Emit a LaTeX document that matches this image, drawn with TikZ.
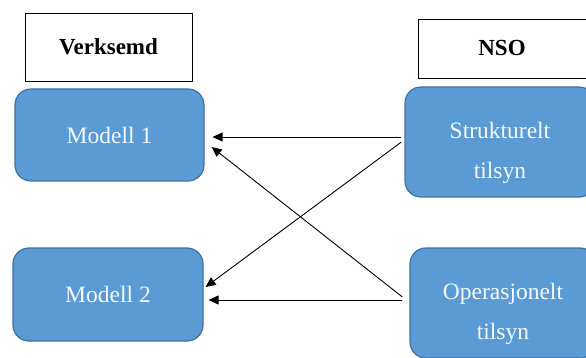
\documentclass[tikz,border=0pt]{standalone}
\usepackage{fontspec}
\setmainfont{Liberation Serif}
\usetikzlibrary{arrows.meta}

\definecolor{boxblue}{HTML}{5B9BD5}
\definecolor{edgeblue}{HTML}{41719C}

\begin{document}
\begin{tikzpicture}[x=1pt, y=-1pt,
  head/.style={draw, line width=0.8pt, fill=white, inner sep=0pt,
               font=\fontsize{23}{28}\selectfont\bfseries},
  part/.style={draw=edgeblue, line width=1.2pt, fill=boxblue, rounded corners=16pt,
               inner sep=0pt, text=white!94!boxblue, align=center,
               font=\fontsize{23.5}{40}\selectfont},
  arr/.style={-{Triangle[length=10pt, width=9pt]}, line width=0.9pt}]

\path[use as bounding box, clip] (0,0) rectangle (586,358);

% ---------- Verksemd ----------
\node[head, minimum width=167, minimum height=68] (v-h)  at (108.5, 47) {Verksemd};
\node[part, minimum width=189, minimum height=92] (v-m1) at (109.5, 135) {Modell 1};
\node[part, minimum width=190, minimum height=93] (v-m2) at (108, 294.5) {Modell 2};

% ---------- NSO ----------
\node[head, minimum width=168, minimum height=59] (n-h) at (502, 48.5) {NSO};
\node[part, minimum width=190, minimum height=110] (n-s) at (500, 142)
  {\rule{0pt}{38pt}Strukturelt\\tilsyn};
\node[part, minimum width=186, minimum height=110] (n-o) at (503, 303)
  {\rule{0pt}{38pt}Operasjonelt\\tilsyn};

\draw[arr] ([shift={(-3,-5)}]n-s.west) -- ([shift={(8,2)}]v-m1.east);
\draw[arr] ([shift={(-3,0)}]n-s.west)  -- ([shift={(2,-7.5)}]v-m2.east);
\draw[arr] ([shift={(-7,-6)}]n-o.west) -- ([shift={(7,12)}]v-m1.east);
\draw[arr] ([shift={(-7,-3)}]n-o.west) -- ([shift={(5,5.5)}]v-m2.east);
\end{tikzpicture}
\end{document}
